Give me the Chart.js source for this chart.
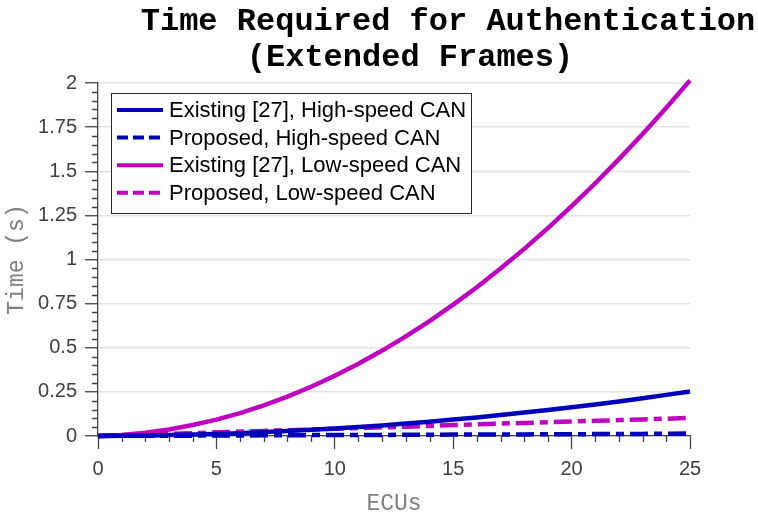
<!DOCTYPE html>
<html>
<head>
<meta charset="utf-8">
<script src="https://cdn.jsdelivr.net/npm/chart.js@4/dist/chart.umd.min.js"></script>
<style>
  body { margin: 0; background: #fff; }
</style>
</head>
<body>
<canvas id="chart" width="758" height="520"></canvas>
<script>
// values
var ecus = [0, 1, 2, 3, 4, 5, 6, 7, 8, 9, 10, 11, 12, 13, 14, 15, 16, 17, 18, 19, 20, 21, 22, 23, 24, 25];
var existingHigh = [0, 0.001, 0.002, 0.005, 0.008, 0.012, 0.016, 0.022, 0.028, 0.035, 0.043, 0.051, 0.060, 0.071, 0.081, 0.093, 0.105, 0.119, 0.133, 0.147, 0.163, 0.179, 0.196, 0.214, 0.233, 0.252];
var proposedHigh = [0, 0.001, 0.001, 0.002, 0.002, 0.003, 0.003, 0.004, 0.004, 0.005, 0.005, 0.006, 0.006, 0.007, 0.007, 0.008, 0.008, 0.009, 0.009, 0.010, 0.010, 0.011, 0.012, 0.012, 0.013, 0.014];
var existingLow = [0, 0.006, 0.019, 0.037, 0.062, 0.093, 0.130, 0.174, 0.223, 0.279, 0.341, 0.409, 0.484, 0.564, 0.651, 0.744, 0.843, 0.949, 1.060, 1.178, 1.302, 1.432, 1.569, 1.711, 1.860, 2.015];
var proposedLow = [0, 0.004, 0.008, 0.012, 0.016, 0.021, 0.025, 0.029, 0.033, 0.037, 0.041, 0.045, 0.049, 0.053, 0.057, 0.062, 0.066, 0.070, 0.074, 0.078, 0.082, 0.086, 0.090, 0.094, 0.098, 0.103];

var seriesNames = ['Existing [27], High-speed CAN', 'Proposed, High-speed CAN', 'Existing [27], Low-speed CAN', 'Proposed, Low-speed CAN'];
var titleLines = ['Time Required for Authentication', '(Extended Frames)'];
var xLabel = 'ECUs';
var yLabel = 'Time (s)';

var blue = '#0000bb';
var magenta = '#bf00bf';
var dashDot = [18, 6, 8, 6];

function pts(arr) {
  return ecus.map(function (x, i) { return { x: x, y: arr[i] }; });
}

function line(label, arr, color, dash) {
  return {
    label: label,
    data: pts(arr),
    borderColor: color,
    backgroundColor: color,
    borderWidth: 4.5,
    borderDash: dash,
    pointRadius: 0,
    tension: 0,
    clip: false
  };
}

// small ticks between the labelled ones
var minorTicks = {
  id: 'minorTicks',
  beforeDatasetsDraw: function (chart) {
    var ctx = chart.ctx, xs = chart.scales.x, ys = chart.scales.y;
    ctx.save();
    ctx.strokeStyle = '#444';
    ctx.lineWidth = 1.3;
    ctx.beginPath();
    for (var i = 0; i <= 25; i++) {
      if (i % 5 === 0) continue;
      var px = Math.round(xs.getPixelForValue(i)) + 0.5;
      ctx.moveTo(px, ys.bottom);
      ctx.lineTo(px, ys.bottom + 6);
    }
    for (var j = 0; j <= 40; j++) {
      if (j % 5 === 0) continue;
      var py = Math.round(ys.getPixelForValue(j * 0.05)) + 0.5;
      ctx.moveTo(xs.left, py);
      ctx.lineTo(xs.left - 6, py);
    }
    ctx.stroke();
    ctx.restore();
  }
};

// boxed legend and two-line title
var legendBox = {
  id: 'legendBox',
  afterDraw: function (chart) {
    var ctx = chart.ctx, area = chart.chartArea;
    var sets = chart.data.datasets;
    ctx.save();
    ctx.font = '22px "Liberation Sans", Arial, sans-serif';
    var maxW = 0;
    sets.forEach(function (d) { maxW = Math.max(maxW, ctx.measureText(d.label).width); });
    var left = area.left + 13, top = area.top + 10;
    var rowH = 27.6;
    var w = 58 + maxW + 5, h = 17 + rowH * (sets.length - 1) + 20;
    ctx.fillStyle = '#fff';
    ctx.fillRect(left, top, w, h);
    ctx.strokeStyle = '#262626';
    ctx.lineWidth = 1;
    ctx.strokeRect(Math.round(left) + 0.5, Math.round(top) + 0.5, Math.round(w), Math.round(h));
    sets.forEach(function (d, i) {
      var y = top + 17 + i * rowH;
      ctx.beginPath();
      ctx.setLineDash(d.borderDash.length ? [11, 5] : []);
      ctx.strokeStyle = d.borderColor;
      ctx.lineWidth = 4;
      ctx.moveTo(left + 6, y);
      ctx.lineTo(left + 52, y);
      ctx.stroke();
      ctx.setLineDash([]);
      ctx.fillStyle = '#000';
      ctx.textBaseline = 'middle';
      ctx.textAlign = 'left';
      ctx.fillText(d.label, left + 58, y + 1);
    });

    var cx = (area.left + area.right) / 2;
    ctx.font = 'bold 32px "Liberation Mono", "Courier New", monospace';
    ctx.fillStyle = '#000';
    ctx.textAlign = 'center';
    ctx.textBaseline = 'alphabetic';
    ctx.fillText(titleLines[0], cx + 54, 30);
    ctx.fillText(titleLines[1], cx + 16, 66);
    ctx.restore();
  }
};

var ctx = document.getElementById('chart');
var chart = new Chart(ctx, {
  type: 'line',
  data: {
    datasets: [
      line(seriesNames[0], existingHigh, blue, []),
      line(seriesNames[1], proposedHigh, blue, dashDot),
      line(seriesNames[2], existingLow, magenta, []),
      line(seriesNames[3], proposedLow, magenta, dashDot)
    ]
  },
  options: {
    responsive: false,
    animation: false,
    layout: { padding: { top: 83, right: 68, left: 0, bottom: 0 } },
    plugins: {
      legend: { display: false },
      title: { display: false },
      tooltip: { enabled: false }
    },
    scales: {
      x: {
        type: 'linear',
        min: 0,
        max: 25,
        afterFit: function (s) { s.height = 84; },
        ticks: {
          stepSize: 5,
          padding: 8,
          color: '#404040',
          font: { family: '"Liberation Sans", Arial, sans-serif', size: 20 }
        },
        grid: { drawOnChartArea: false, drawTicks: true, tickLength: 13, tickColor: '#444', tickWidth: 1.3 },
        border: { display: true, color: '#444', width: 1.3 },
        title: {
          display: true,
          text: xLabel,
          color: '#808080',
          padding: { top: 0, bottom: 2 },
          font: { family: '"Liberation Mono", "Courier New", monospace', size: 23 }
        }
      },
      y: {
        min: 0,
        max: 2,
        afterFit: function (s) { s.width = 98; },
        ticks: {
          stepSize: 0.25,
          padding: 8,
          color: '#404040',
          font: { family: '"Liberation Sans", Arial, sans-serif', size: 20 },
          callback: function (v) { return String(v); }
        },
        grid: { color: '#e3e3e3', lineWidth: 1.5, drawTicks: true, tickLength: 13, tickColor: '#444', tickWidth: 1.3 },
        border: { display: true, color: '#444', width: 1.3 },
        title: {
          display: true,
          text: yLabel,
          color: '#808080',
          padding: { top: 3, bottom: 0 },
          font: { family: '"Liberation Mono", "Courier New", monospace', size: 23 }
        }
      }
    }
  },
  plugins: [minorTicks, legendBox]
});
</script>
</body>
</html>
